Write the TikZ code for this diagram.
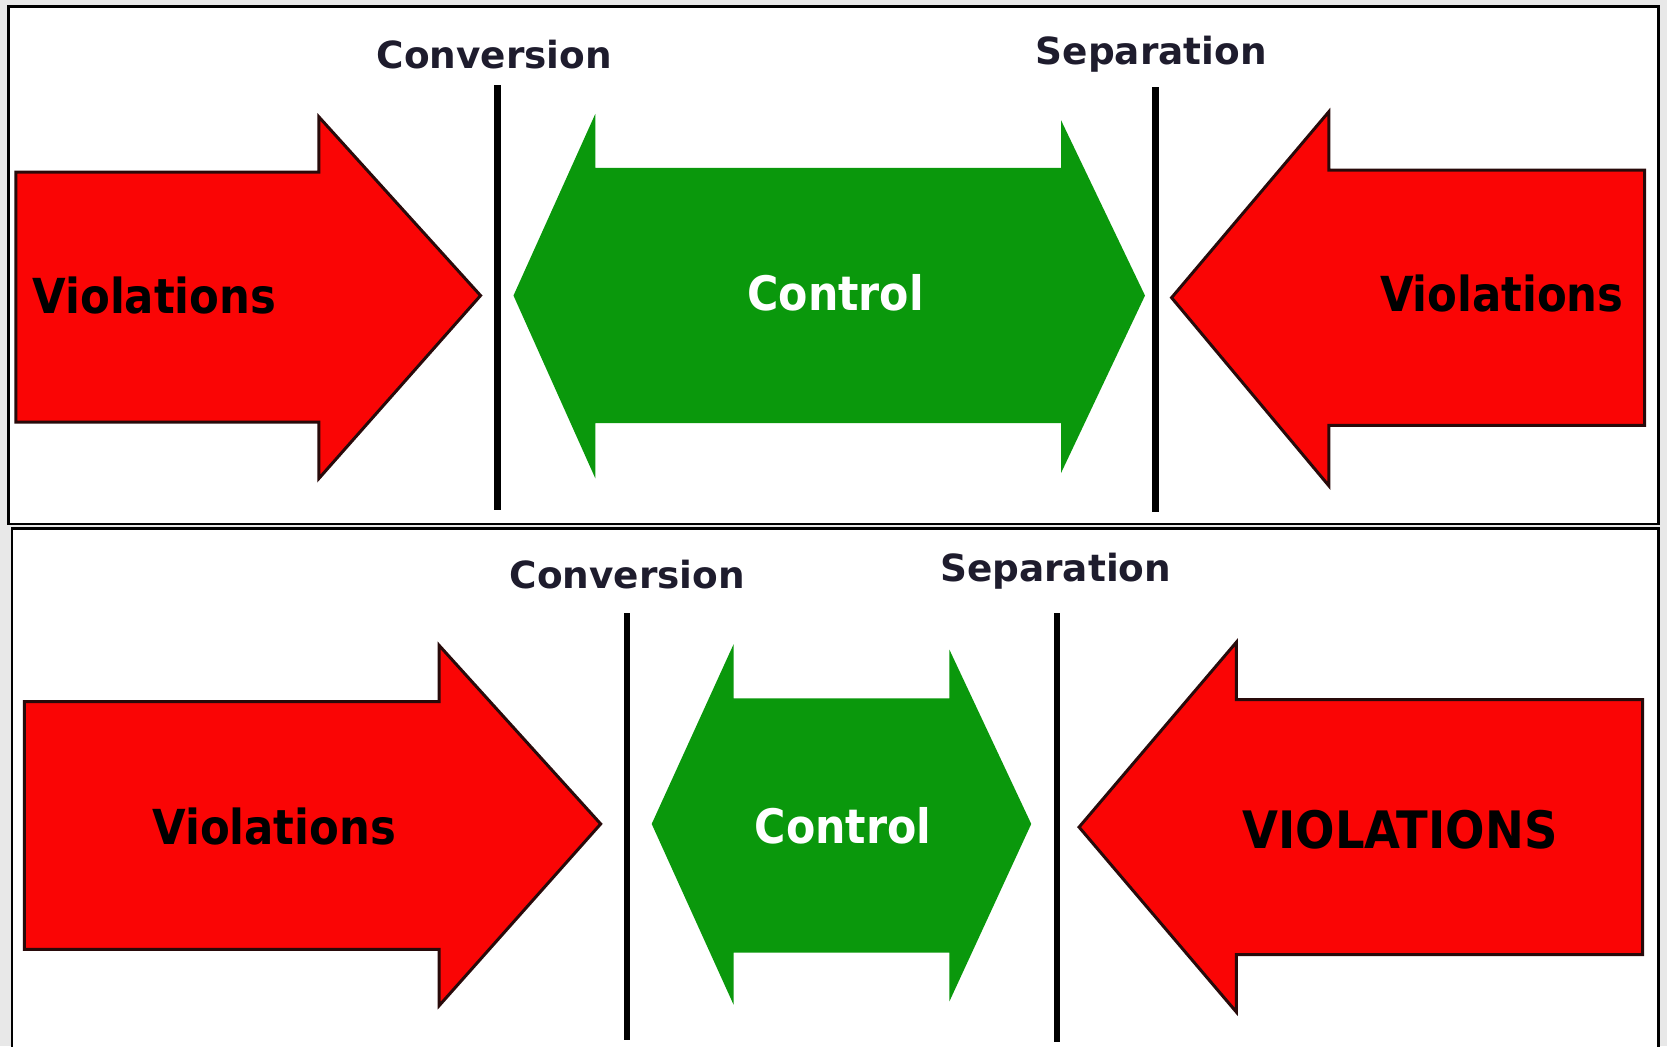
\documentclass[tikz,border=0pt]{standalone}
\usepackage{fontspec}
\setmainfont{DejaVu Sans}
\newfontfamily\condfont{DejaVu Sans Condensed}
\definecolor{arrowred}{RGB}{250,5,5}
\definecolor{ctrlgreen}{RGB}{10,152,12}
\definecolor{edgeline}{RGB}{40,10,10}
\definecolor{labelink}{RGB}{30,28,45}
\definecolor{paper}{RGB}{232,232,232}
\tikzset{
  panel/.style={fill=white, draw=black, line width=0.6pt},
  redarrow/.style={fill=arrowred, draw=edgeline, line width=0.8pt, line join=miter},
  greenarrow/.style={fill=ctrlgreen},
  divider/.style={line width=1.7pt, black},
  stagelabel/.style={text=labelink, font=\bfseries\fontsize{10}{12}\selectfont, inner sep=0pt},
  violtext/.style={text=black, font=\condfont\bfseries\fontsize{12.9}{15}\selectfont, inner sep=0pt},
  capstext/.style={text=black, font=\condfont\bfseries\fontsize{13.8}{16}\selectfont, inner sep=0pt},
  ctrltext/.style={text=white, font=\condfont\bfseries\fontsize{12.7}{15}\selectfont, inner sep=0pt},
}
\begin{document}
\begin{tikzpicture}[x=0.01cm, y=-0.01cm]
  % canvas
  \fill[paper] (0,0) rectangle (1568,984);
  \useasboundingbox (0,0) rectangle (1568,984);

  % ---------- upper panel ----------
  \draw[panel] (8,6) rectangle (1560,493);
  \draw[redarrow] (15,162) -- (300,162) -- (300,110) -- (452,278) -- (300,450)
      -- (300,397) -- (15,397) -- cycle;
  \draw[redarrow] (1547,160) -- (1250,160) -- (1250,105) -- (1102,280) -- (1250,457)
      -- (1250,400) -- (1547,400) -- cycle;
  \fill[greenarrow] (483,278) -- (560,107) -- (560,158) -- (998,158) -- (998,113)
      -- (1077,278) -- (998,445) -- (998,398) -- (560,398) -- (560,450) -- cycle;
  \draw[divider] (468,80) -- (468,480);
  \draw[divider] (1087,82) -- (1087,482);
  \node[stagelabel] (convA) at (465,51) {Conversion};
  \node[stagelabel] (sepA) at (1083,51) {Separation};
  \node[violtext, anchor=west] (violAl) at (30,278) {Violations};
  \node[violtext, anchor=east] (violAr) at (1528,276) {Violations};
  \node[ctrltext] (ctrlA) at (786,275) {Control};

  % ---------- lower panel ----------
  \draw[panel] (11,497) rectangle (1560,995);
  \draw[redarrow] (23,660) -- (413,660) -- (413,607) -- (565,775) -- (413,946)
      -- (413,893) -- (23,893) -- cycle;
  \draw[redarrow] (1545,658) -- (1163,658) -- (1163,604) -- (1015,778) -- (1163,952)
      -- (1163,898) -- (1545,898) -- cycle;
  \fill[greenarrow] (613,775) -- (690,606) -- (690,657) -- (893,657) -- (893,611)
      -- (970,775) -- (893,942) -- (893,896) -- (690,896) -- (690,945) -- cycle;
  \draw[divider] (590,577) -- (590,978);
  \draw[divider] (994,577) -- (994,980);
  \node[stagelabel] (convB) at (590,540) {Conversion};
  \node[stagelabel] (sepB) at (993,537) {Separation};
  \node[violtext] (violBl) at (258,777) {Violations};
  \node[capstext] (violBr) at (1317,780) {VIOLATIONS};
  \node[ctrltext] (ctrlB) at (793,777) {Control};
\end{tikzpicture}
\end{document}
